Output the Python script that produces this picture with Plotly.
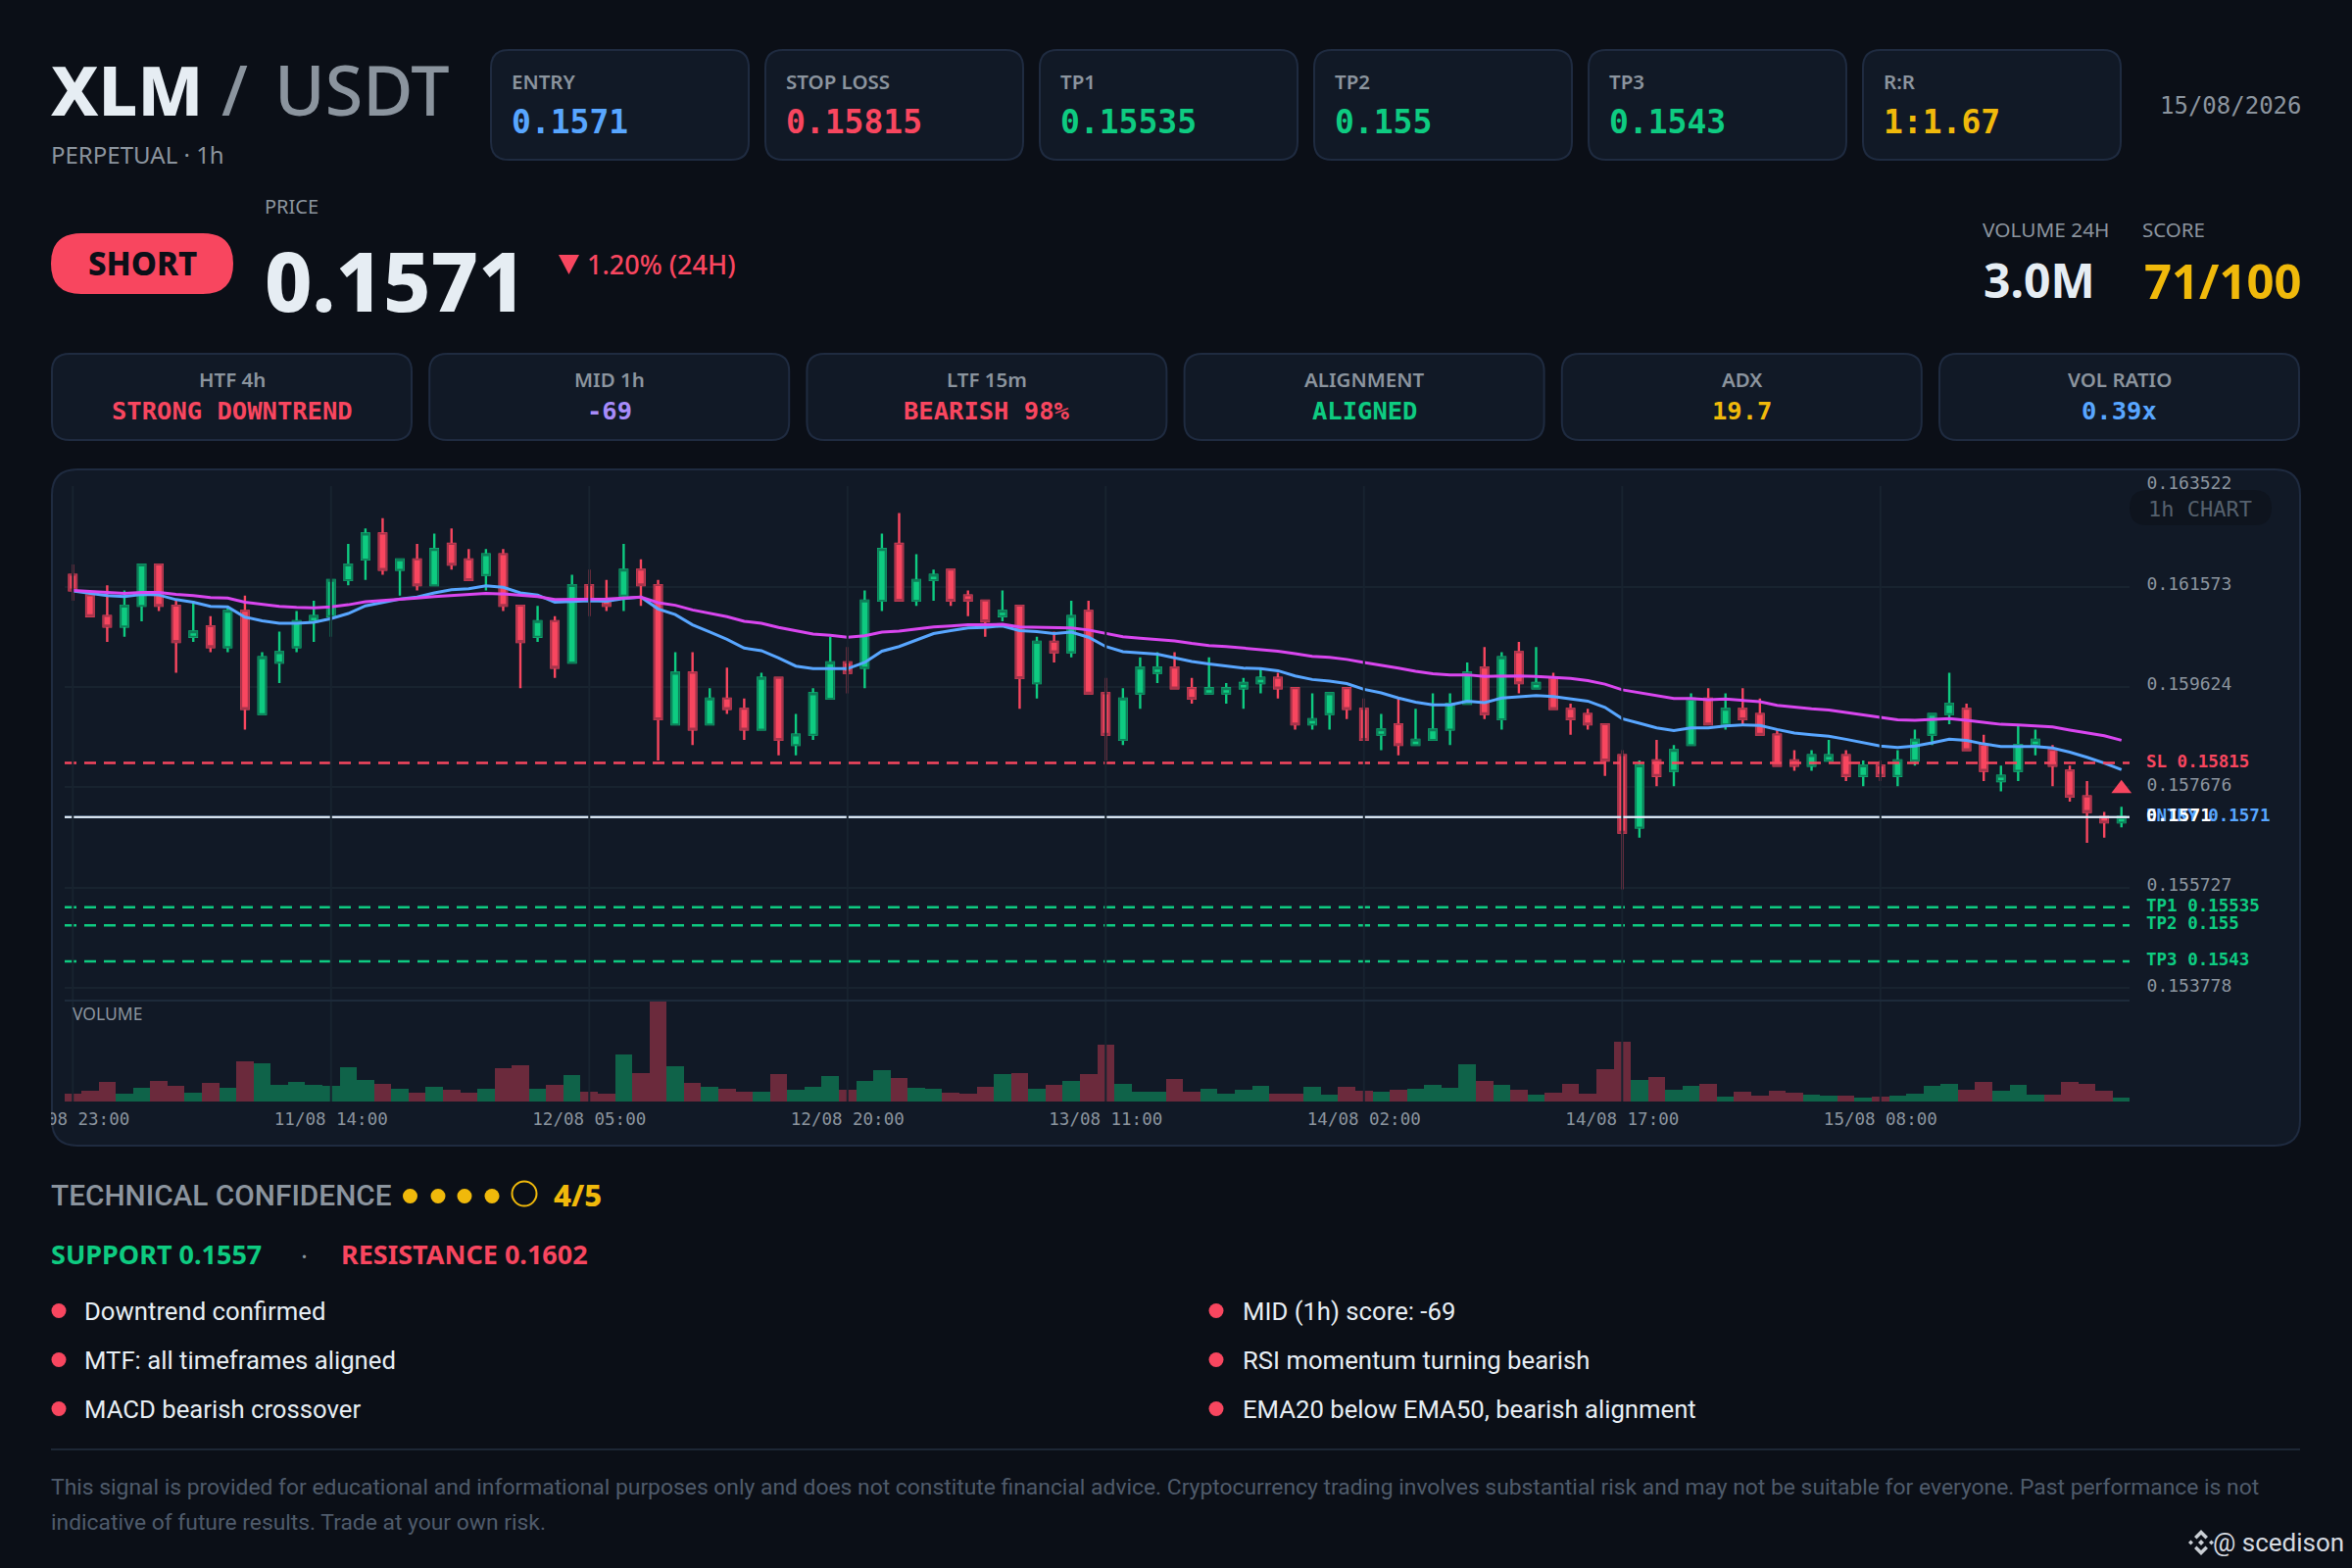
import pandas as pd
import plotly.graph_objects as go

W, H = 2400, 1600

# colours
BG = "#0b0f17"
CARD = "#111926"
BORDER = "#1f2b40"
TXT = "#e6edf3"
MUTED = "#8b949e"
RED = "#f8465f"
RED_DK = "#a6344b"
GREEN = "#0ecb81"
GREEN_DK = "#0e7d58"
BLUE = "#58a6ff"
YELLOW = "#f0b90b"
PURPLE = "#a78bfa"
MAGENTA = "#d946ef"
GRID = "#18232f"
SANS = "Noto Sans"
BODY = "Roboto"
MONO = "DejaVu Sans Mono"

# header cards
card_labels = ["ENTRY", "STOP LOSS", "TP1", "TP2", "TP3", "R:R"]
card_values = ["0.1571", "0.15815", "0.15535", "0.155", "0.1543", "1:1.67"]
card_colors = [BLUE, RED, GREEN, GREEN, GREEN, YELLOW]

# status row
stat_labels = ["HTF 4h", "MID 1h", "LTF 15m", "ALIGNMENT", "ADX", "VOL RATIO"]
stat_values = ["STRONG DOWNTREND", "-69", "BEARISH 98%", "ALIGNED", "19.7", "0.39x"]
stat_colors = [RED, PURPLE, RED, GREEN, YELLOW, BLUE]

# bullets
reasons_left = ["Downtrend confirmed", "MTF: all timeframes aligned", "MACD bearish crossover"]
reasons_right = ["MID (1h) score: -69", "RSI momentum turning bearish", "EMA20 below EMA50, bearish alignment"]

# candles, hourly from 10/08 23:00
opens = [0.1618, 0.1614, 0.1610, 0.1608, 0.1612, 0.1620, 0.1612, 0.1606, 0.1608, 0.1604,
         0.1611, 0.1591, 0.1601, 0.1604, 0.1609, 0.1610, 0.1617, 0.1621, 0.1626, 0.1619,
         0.1621, 0.1616, 0.1624, 0.1621, 0.1618, 0.1622, 0.1612, 0.1606, 0.1609, 0.1601,
         0.1616, 0.1613, 0.1614, 0.1619, 0.1616, 0.1589, 0.1599, 0.1589, 0.1594, 0.1592,
         0.1588, 0.1598, 0.1585, 0.1587, 0.1594, 0.1601, 0.1600, 0.1613, 0.1624, 0.1613,
         0.1617, 0.1619, 0.1614, 0.1613, 0.1610, 0.1612, 0.1597, 0.1605, 0.1603, 0.1611,
         0.1595, 0.1586, 0.1595, 0.1599, 0.1600, 0.1596, 0.1595, 0.1595, 0.1596, 0.1597,
         0.1598, 0.1596, 0.1589, 0.1591, 0.1596, 0.1592, 0.1587, 0.1589, 0.1585, 0.1586,
         0.1588, 0.1593, 0.1600, 0.1590, 0.1603, 0.1596, 0.1598, 0.1592, 0.1591, 0.1589,
         0.1583, 0.1569, 0.1582, 0.1580, 0.1585, 0.1594, 0.1589, 0.1592, 0.1591, 0.1587,
         0.1582, 0.1581, 0.1582, 0.1583, 0.1579, 0.1581, 0.1579, 0.1582, 0.1587, 0.1591,
         0.1592, 0.1585, 0.1578, 0.1580, 0.1585, 0.1584, 0.1580, 0.1575, 0.1571, 0.1570]
highs = [0.1620, 0.1615, 0.1616, 0.1615, 0.1620, 0.1620, 0.1613, 0.1613, 0.1610, 0.1612,
         0.1614, 0.1603, 0.1607, 0.1611, 0.1613, 0.1617, 0.1624, 0.1627, 0.1629, 0.1621,
         0.1624, 0.1626, 0.1627, 0.1623, 0.1623, 0.1623, 0.1612, 0.1612, 0.1610, 0.1618,
         0.1619, 0.1617, 0.1624, 0.1621, 0.1617, 0.1603, 0.1603, 0.1596, 0.1600, 0.1594,
         0.1599, 0.1598, 0.1591, 0.1596, 0.1606, 0.1604, 0.1615, 0.1626, 0.1630, 0.1622,
         0.1619, 0.1619, 0.1615, 0.1613, 0.1615, 0.1612, 0.1606, 0.1607, 0.1613, 0.1613,
         0.1598, 0.1596, 0.1602, 0.1603, 0.1603, 0.1598, 0.1602, 0.1597, 0.1598, 0.1600,
         0.1599, 0.1596, 0.1595, 0.1595, 0.1596, 0.1594, 0.1591, 0.1594, 0.1592, 0.1595,
         0.1595, 0.1601, 0.1604, 0.1603, 0.1605, 0.1604, 0.1599, 0.1593, 0.1592, 0.1589,
         0.1584, 0.1582, 0.1586, 0.1585, 0.1595, 0.1596, 0.1595, 0.1596, 0.1594, 0.1588,
         0.1584, 0.1584, 0.1586, 0.1584, 0.1582, 0.1582, 0.1584, 0.1588, 0.1591, 0.1599,
         0.1593, 0.1587, 0.1581, 0.1589, 0.1588, 0.1585, 0.1581, 0.1578, 0.1572, 0.1573]
lows = [0.1613, 0.1610, 0.1605, 0.1606, 0.1609, 0.1611, 0.1599, 0.1605, 0.1603, 0.1603,
        0.1588, 0.1591, 0.1597, 0.1603, 0.1605, 0.1606, 0.1616, 0.1617, 0.1618, 0.1614,
        0.1615, 0.1616, 0.1619, 0.1617, 0.1615, 0.1611, 0.1596, 0.1605, 0.1598, 0.1601,
        0.1610, 0.1611, 0.1611, 0.1612, 0.1582, 0.1589, 0.1585, 0.1589, 0.1591, 0.1586,
        0.1588, 0.1583, 0.1583, 0.1586, 0.1594, 0.1595, 0.1596, 0.1611, 0.1613, 0.1612,
        0.1613, 0.1612, 0.1610, 0.1606, 0.1609, 0.1592, 0.1594, 0.1601, 0.1602, 0.1595,
        0.1582, 0.1585, 0.1592, 0.1597, 0.1596, 0.1593, 0.1595, 0.1593, 0.1592, 0.1595,
        0.1594, 0.1588, 0.1588, 0.1588, 0.1590, 0.1586, 0.1584, 0.1583, 0.1585, 0.1586,
        0.1585, 0.1593, 0.1590, 0.1588, 0.1595, 0.1596, 0.1592, 0.1587, 0.1588, 0.1579,
        0.1557, 0.1567, 0.1577, 0.1577, 0.1585, 0.1589, 0.1588, 0.1589, 0.1587, 0.1581,
        0.1580, 0.1580, 0.1582, 0.1578, 0.1577, 0.1578, 0.1577, 0.1581, 0.1585, 0.1589,
        0.1584, 0.1578, 0.1576, 0.1578, 0.1583, 0.1577, 0.1574, 0.1566, 0.1567, 0.1569]
closes = [0.1615, 0.1610, 0.1608, 0.1612, 0.1620, 0.1612, 0.1605, 0.1607, 0.1604, 0.1611,
          0.1592, 0.1602, 0.1603, 0.1609, 0.1610, 0.1617, 0.1620, 0.1626, 0.1619, 0.1621,
          0.1616, 0.1623, 0.1620, 0.1617, 0.1622, 0.1612, 0.1605, 0.1609, 0.1600, 0.1616,
          0.1613, 0.1612, 0.1619, 0.1616, 0.1590, 0.1599, 0.1588, 0.1594, 0.1592, 0.1588,
          0.1598, 0.1586, 0.1587, 0.1595, 0.1601, 0.1599, 0.1613, 0.1623, 0.1613, 0.1617,
          0.1618, 0.1613, 0.1613, 0.1609, 0.1611, 0.1598, 0.1605, 0.1603, 0.1610, 0.1595,
          0.1587, 0.1594, 0.1600, 0.1600, 0.1596, 0.1594, 0.1596, 0.1596, 0.1597, 0.1598,
          0.1596, 0.1589, 0.1590, 0.1595, 0.1592, 0.1586, 0.1588, 0.1585, 0.1586, 0.1588,
          0.1593, 0.1599, 0.1591, 0.1602, 0.1597, 0.1597, 0.1592, 0.1590, 0.1589, 0.1582,
          0.1568, 0.1581, 0.1579, 0.1584, 0.1594, 0.1589, 0.1592, 0.1590, 0.1587, 0.1581,
          0.1581, 0.1583, 0.1583, 0.1579, 0.1581, 0.1579, 0.1582, 0.1586, 0.1591, 0.1593,
          0.1584, 0.1580, 0.1579, 0.1585, 0.1586, 0.1581, 0.1575, 0.1572, 0.1570, 0.1571]
ema20 = [0.16149, 0.16145, 0.16140, 0.16138, 0.16142, 0.16141, 0.16132, 0.16127, 0.16119, 0.16118,
         0.16098, 0.16091, 0.16086, 0.16086, 0.16088, 0.16095, 0.16105, 0.16120, 0.16126, 0.16133,
         0.16137, 0.16145, 0.16151, 0.16153, 0.16159, 0.16156, 0.16145, 0.16141, 0.16127, 0.16129,
         0.16130, 0.16129, 0.16134, 0.16137, 0.16114, 0.16103, 0.16083, 0.16069, 0.16055, 0.16038,
         0.16033, 0.16019, 0.16003, 0.15998, 0.15998, 0.15998, 0.16010, 0.16032, 0.16041, 0.16053,
         0.16066, 0.16072, 0.16077, 0.16078, 0.16081, 0.16072, 0.16070, 0.16066, 0.16069, 0.16059,
         0.16041, 0.16031, 0.16028, 0.16026, 0.16019, 0.16012, 0.16007, 0.16003, 0.15999, 0.15998,
         0.15994, 0.15984, 0.15977, 0.15974, 0.15969, 0.15958, 0.15951, 0.15941, 0.15933, 0.15928,
         0.15928, 0.15935, 0.15932, 0.15941, 0.15944, 0.15946, 0.15944, 0.15940, 0.15935, 0.15923,
         0.15901, 0.15892, 0.15883, 0.15878, 0.15883, 0.15883, 0.15887, 0.15889, 0.15888, 0.15880,
         0.15873, 0.15870, 0.15867, 0.15861, 0.15855, 0.15848, 0.15845, 0.15848, 0.15854, 0.15861,
         0.15859, 0.15852, 0.15847, 0.15847, 0.15847, 0.15844, 0.15836, 0.15826, 0.15815, 0.15802]
ema50 = [0.16150, 0.16148, 0.16145, 0.16144, 0.16146, 0.16146, 0.16142, 0.16140, 0.16136, 0.16135,
         0.16127, 0.16123, 0.16119, 0.16117, 0.16116, 0.16118, 0.16122, 0.16128, 0.16130, 0.16133,
         0.16135, 0.16138, 0.16140, 0.16141, 0.16144, 0.16143, 0.16140, 0.16138, 0.16132, 0.16132,
         0.16133, 0.16133, 0.16135, 0.16137, 0.16126, 0.16121, 0.16112, 0.16106, 0.16099, 0.16090,
         0.16086, 0.16078, 0.16071, 0.16065, 0.16063, 0.16059, 0.16062, 0.16069, 0.16071, 0.16075,
         0.16079, 0.16081, 0.16083, 0.16083, 0.16084, 0.16079, 0.16078, 0.16077, 0.16077, 0.16073,
         0.16066, 0.16060, 0.16057, 0.16055, 0.16052, 0.16047, 0.16043, 0.16041, 0.16038, 0.16036,
         0.16032, 0.16027, 0.16022, 0.16020, 0.16016, 0.16010, 0.16005, 0.15999, 0.15993, 0.15988,
         0.15986, 0.15986, 0.15983, 0.15984, 0.15984, 0.15983, 0.15981, 0.15979, 0.15975, 0.15968,
         0.15957, 0.15951, 0.15945, 0.15940, 0.15940, 0.15938, 0.15939, 0.15937, 0.15934, 0.15927,
         0.15923, 0.15920, 0.15918, 0.15913, 0.15909, 0.15904, 0.15899, 0.15898, 0.15900, 0.15901,
         0.15898, 0.15894, 0.15890, 0.15889, 0.15887, 0.15885, 0.15879, 0.15874, 0.15868, 0.15859]
# relative volume, the real unit is not on the chart
volumes = [8.0, 11.0, 20.0, 8.3, 14.3, 21.0, 16.3, 9.0, 18.7, 14.3,
           41.0, 39.0, 16.7, 19.7, 17.0, 15.7, 35.0, 22.0, 18.3, 13.0,
           9.0, 15.0, 12.3, 9.3, 13.0, 34.3, 36.7, 12.7, 17.3, 27.0,
           10.0, 8.0, 47.7, 29.3, 102.0, 35.7, 19.0, 15.0, 13.0, 10.0,
           9.7, 28.3, 11.7, 15.0, 25.7, 12.0, 20.7, 32.0, 24.0, 14.0,
           13.3, 9.3, 7.7, 15.0, 28.3, 28.7, 12.7, 16.7, 20.7, 28.0,
           58.0, 17.7, 10.0, 9.7, 23.3, 10.3, 13.0, 7.7, 12.3, 15.7,
           7.7, 8.3, 15.0, 7.0, 15.0, 10.7, 9.7, 12.3, 12.7, 16.7,
           14.0, 37.7, 21.3, 17.0, 12.3, 7.3, 8.7, 18.0, 7.7, 33.0,
           60.7, 22.0, 24.7, 11.7, 16.0, 18.0, 5.0, 9.7, 6.3, 11.0,
           8.7, 7.0, 6.0, 6.3, 4.0, 5.3, 6.0, 8.0, 16.0, 18.3,
           11.7, 20.3, 11.0, 16.7, 7.0, 7.0, 20.0, 18.0, 11.0, 4.0]

price_ticks = [0.163522, 0.161573, 0.159624, 0.157676, 0.155727, 0.153778]
time_labels = ["10/08 23:00", "11/08 14:00", "12/08 05:00", "12/08 20:00",
               "13/08 11:00", "14/08 02:00", "14/08 17:00", "15/08 08:00"]

entry = 0.1571
last_price = 0.1571
stop_loss = 0.15815
targets = [0.15535, 0.155, 0.1543]
target_names = ["TP1", "TP2", "TP3"]
signal_price = 0.15765

times = pd.date_range("2026-08-10 23:00", periods=len(closes), freq="h")
tick_times = list(times[::15])
body_top = [max(o, c) for o, c in zip(opens, closes)]
body_bot = [min(o, c) for o, c in zip(opens, closes)]
vol_colors = ["#0f6349" if c >= o else "#6b2a3c" for o, c in zip(opens, closes)]


def X(p):
    return p / W


def Y(p):
    return 1 - p / H


def round_rect(x0, y0, x1, y1, r):
    # plotly paths have no arcs, so the corners are quadratic
    return (f"M{X(x0 + r)},{Y(y0)} L{X(x1 - r)},{Y(y0)} Q{X(x1)},{Y(y0)} {X(x1)},{Y(y0 + r)} "
            f"L{X(x1)},{Y(y1 - r)} Q{X(x1)},{Y(y1)} {X(x1 - r)},{Y(y1)} "
            f"L{X(x0 + r)},{Y(y1)} Q{X(x0)},{Y(y1)} {X(x0)},{Y(y1 - r)} "
            f"L{X(x0)},{Y(y0 + r)} Q{X(x0)},{Y(y0)} {X(x0 + r)},{Y(y0)} Z")


def add_box(fig, x0, y0, x1, y1, r, fill, line=None, lw=2, layer="below"):
    fig.add_shape(type="path", path=round_rect(x0, y0, x1, y1, r), xref="paper", yref="paper",
                  fillcolor=fill, line=dict(color=line or fill, width=lw if line else 0), layer=layer)


def add_text(fig, x, y, txt, size, color, family=SANS, weight=400, anchor="left"):
    fig.add_annotation(x=X(x), y=Y(y), xref="paper", yref="paper", text=txt, showarrow=False,
                       xanchor=anchor, yanchor="middle", borderpad=0, borderwidth=0,
                       font=dict(family=family, size=size, color=color, weight=weight))


def add_level_label(fig, level, txt, size, color):
    fig.add_annotation(x=X(2190), xref="paper", y=level, yref="y", text=txt, showarrow=False,
                       xanchor="left", yanchor="middle", yshift=2, borderpad=0, borderwidth=0,
                       font=dict(family=MONO, size=size, color=color, weight=700))


def add_dot(fig, x, y, d, fill, line=None):
    fig.add_shape(type="circle", xref="paper", yref="paper", x0=X(x - d / 2), x1=X(x + d / 2),
                  y0=Y(y + d / 2), y1=Y(y - d / 2), fillcolor=fill,
                  line=dict(color=line or fill, width=2 if line else 0), layer="above")


def add_poly(fig, cx, cy, pts, color):
    d = " L".join(f"{X(cx + px)},{Y(cy + py)}" for px, py in pts)
    fig.add_shape(type="path", xref="paper", yref="paper", fillcolor=color, line=dict(width=0),
                  layer="above", path=f"M{d} Z")


fig = go.Figure()

# wicks + fill first, then the same bodies with the darker outline on top
fig.add_trace(go.Candlestick(x=times, open=opens, high=highs, low=lows, close=closes,
                             increasing=dict(line=dict(color=GREEN, width=2.4), fillcolor=GREEN),
                             decreasing=dict(line=dict(color=RED, width=2.4), fillcolor=RED),
                             xaxis="x", yaxis="y", hoverinfo="skip"))
fig.add_trace(go.Candlestick(x=times, open=opens, high=body_top, low=body_bot, close=closes,
                             increasing=dict(line=dict(color=GREEN_DK, width=1.8), fillcolor=GREEN),
                             decreasing=dict(line=dict(color=RED_DK, width=1.8), fillcolor=RED),
                             xaxis="x", yaxis="y", hoverinfo="skip"))
fig.add_trace(go.Scatter(x=times, y=ema20, mode="lines", line=dict(color=BLUE, width=3), xaxis="x", yaxis="y"))
fig.add_trace(go.Scatter(x=times, y=ema50, mode="lines", line=dict(color=MAGENTA, width=3), xaxis="x", yaxis="y"))
fig.add_trace(go.Scatter(x=[times[-1]], y=[signal_price], mode="markers", cliponaxis=False,
                         marker=dict(symbol="triangle-up", size=18, color=RED), xaxis="x", yaxis="y"))
fig.add_trace(go.Bar(x=times, y=volumes, marker=dict(color=vol_colors, line=dict(width=0)), xaxis="x", yaxis="y2"))

# ---- cards
add_box(fig, 53, 479, 2347, 1169, 26, CARD, BORDER)
for i in range(6):
    x0 = 501 + 280 * i
    add_box(fig, x0, 51, x0 + 263, 163, 18, CARD, BORDER)
    add_text(fig, x0 + 21, 83, card_labels[i], 20.5, MUTED, weight=600)
    add_text(fig, x0 + 21, 124, card_values[i], 33, card_colors[i], family=MONO, weight=700)
for i in range(6):
    x0 = 53 + 385.2 * i
    add_box(fig, x0, 361, x0 + 367, 449, 18, CARD, BORDER)
    add_text(fig, x0 + 183.5, 387, stat_labels[i], 20.5, MUTED, weight=600, anchor="center")
    add_text(fig, x0 + 183.5, 419, stat_values[i], 25.5, stat_colors[i], family=MONO, weight=700, anchor="center")

# ---- header
add_text(fig, 52, 91, "XLM", 70, TXT, weight=800)
add_text(fig, 226, 91, "/", 70, MUTED, weight=500)
add_text(fig, 280, 91, "USDT", 70, MUTED, weight=500)
add_text(fig, 52, 157, "PERPETUAL · 1h", 24, MUTED)
add_text(fig, 2349, 108, "15/08/2026", 24, MUTED, family=MONO, anchor="right")
add_text(fig, 270, 211, "PRICE", 20, MUTED)
add_box(fig, 52, 238, 238, 300, 31, RED, layer="below")
add_text(fig, 145, 269, "SHORT", 33, BG, weight=800, anchor="center")
add_text(fig, 270, 286, "0.1571", 84, TXT, weight=800)
fig.add_shape(type="path", xref="paper", yref="paper", fillcolor=RED, line=dict(width=0), layer="above",
              path=f"M{X(570)},{Y(260)} L{X(591)},{Y(260)} L{X(580.5)},{Y(280)} Z")
add_text(fig, 599, 270, "1.20% (24H)", 27, RED, weight=500)
add_text(fig, 2023, 234, "VOLUME 24H", 20.8, MUTED)
add_text(fig, 2024, 286, "3.0M", 48, TXT, weight=700)
add_text(fig, 2186, 234, "SCORE", 20.5, MUTED)
add_text(fig, 2348, 286, "71/100", 49, YELLOW, weight=700, anchor="right")

# ---- chart overlays
add_box(fig, 2173, 500, 2318, 536, 18, "rgba(13,17,23,0.55)", layer="above")
add_text(fig, 2245, 519, "1h CHART", 22, "#55606d", family=MONO, anchor="center")
add_text(fig, 74, 1034, "VOLUME", 17.5, MUTED)

# level lines, above the candles
for lvl in targets:
    fig.add_shape(type="line", xref="x domain", yref="y", x0=0, x1=1, y0=lvl, y1=lvl, layer="above",
                  line=dict(color=GREEN, width=2.4, dash="12px,8px"))
fig.add_shape(type="line", xref="x domain", yref="y", x0=0, x1=1, y0=stop_loss, y1=stop_loss, layer="above",
              line=dict(color=RED, width=2.4, dash="12px,8px"))
fig.add_shape(type="line", xref="x domain", yref="y", x0=0, x1=1, y0=entry, y1=entry, layer="above",
              line=dict(color=BLUE, width=2))
fig.add_shape(type="line", xref="x domain", yref="y", x0=0, x1=1, y0=last_price, y1=last_price, layer="above",
              line=dict(color="#eef2f6", width=2))

# vertical grid sits on top of the series in the reference
for t in tick_times:
    fig.add_shape(type="line", xref="x", yref="paper", x0=t, x1=t, y0=Y(1124), y1=Y(496), layer="above",
                  line=dict(color=GRID, width=2))
fig.add_shape(type="line", xref="paper", yref="paper", x0=X(66), x1=X(2173), y0=Y(1021), y1=Y(1021),
              layer="above", line=dict(color="#1d2a3a", width=2))

for lvl, name in zip(targets, target_names):
    add_level_label(fig, lvl, f"{name} {lvl}", 17.5, GREEN)
add_level_label(fig, stop_loss, f"SL {stop_loss}", 17.5, RED)
add_level_label(fig, entry, f"ENTRY {entry}", 17.5, BLUE)
add_level_label(fig, last_price, f"{last_price}", 18.4, "#ffffff")

# hide the part of the first time label that falls outside the card
fig.add_shape(type="rect", xref="paper", yref="paper", x0=0, x1=X(52), y0=Y(1160), y1=Y(1125), layer="above",
              fillcolor=BG, line=dict(width=0))

# ---- lower section
add_text(fig, 52, 1219, "TECHNICAL CONFIDENCE", 29.8, MUTED, family=BODY, weight=500)
for cx in [418.5, 447, 474, 502]:
    add_dot(fig, cx, 1220.5, 15, YELLOW)
add_dot(fig, 535, 1218, 25, "rgba(0,0,0,0)", YELLOW)
add_text(fig, 565, 1219, "4/5", 31, YELLOW, weight=800)
add_text(fig, 52, 1279, "SUPPORT 0.1557", 27, GREEN, weight=700)
add_text(fig, 307, 1281, "·", 26, MUTED)
add_text(fig, 348, 1279, "RESISTANCE 0.1602", 27, RED, weight=700)
for i in range(3):
    yy = 1337.5 + 50 * i
    add_dot(fig, 60, yy, 15, RED)
    add_text(fig, 86, yy, reasons_left[i], 25.7, TXT, family=BODY)
    add_dot(fig, 1241, yy, 15, RED)
    add_text(fig, 1268, yy, reasons_right[i], 25.7, TXT, family=BODY)
fig.add_shape(type="line", xref="paper", yref="paper", x0=X(52), x1=X(2347), y0=Y(1479), y1=Y(1479),
              line=dict(color="#1d2735", width=2))
add_text(fig, 52, 1517, "This signal is provided for educational and informational purposes only and does not "
         "constitute financial advice. Cryptocurrency trading involves substantial risk and may not be suitable "
         "for everyone. Past performance is not", 22.85, "#4f5b6b", family=BODY)
add_text(fig, 52, 1553, "indicative of future results. Trade at your own risk.", 22.85, "#4f5b6b", family=BODY)

# watermark logo: two chevrons, two side diamonds, one centre diamond
LOGO = "#c9ced4"
add_poly(fig, 2246, 1574, [(0, -13), (7, -6), (4.5, -3.5), (0, -8), (-4.5, -3.5), (-7, -6)], LOGO)
add_poly(fig, 2246, 1574, [(0, 13), (7, 6), (4.5, 3.5), (0, 8), (-4.5, 3.5), (-7, 6)], LOGO)
add_poly(fig, 2246, 1574, [(0, -3), (3, 0), (0, 3), (-3, 0)], LOGO)
add_poly(fig, 2246, 1574, [(-10.5, -2.5), (-8, 0), (-10.5, 2.5), (-13, 0)], LOGO)
add_poly(fig, 2246, 1574, [(10.5, -2.5), (13, 0), (10.5, 2.5), (8, 0)], LOGO)
add_text(fig, 2392, 1574, "@ scedison", 26, "#d5dae0", family=BODY, anchor="right")

half_bar = pd.Timedelta(hours=0.47)
fig.update_layout(
    width=W, height=H, margin=dict(l=0, r=0, t=0, b=0), autosize=False,
    paper_bgcolor=BG, plot_bgcolor="rgba(0,0,0,0)", showlegend=False,
    boxgap=0.4, bargap=0, hovermode=False,
    xaxis=dict(domain=[X(66), X(2173)], anchor="y2", automargin=False, range=[times[0] - half_bar, times[-1] + half_bar],
               rangeslider=dict(visible=False), showgrid=False, zeroline=False, showline=False,
               tickmode="array", tickvals=tick_times, ticktext=time_labels,
               ticks="outside", ticklen=2, tickcolor="rgba(0,0,0,0)",
               tickfont=dict(family=MONO, size=17.5, color=MUTED)),
    yaxis=dict(domain=[Y(1021), Y(496)], anchor="x", side="right", automargin=False, range=[0.15354, 0.163523],
               showgrid=True, gridcolor=GRID, gridwidth=2, zeroline=False, showline=False,
               tickmode="array", tickvals=price_ticks, ticktext=[f"{p:.6f}" for p in price_ticks],
               ticks="outside", ticklen=13, tickcolor="rgba(0,0,0,0)", ticklabelshift=-3,
               tickfont=dict(family=MONO, size=18, color=MUTED)),
    yaxis2=dict(domain=[Y(1124), Y(1021)], anchor="x", side="right", automargin=False, range=[0, 103],
                showgrid=False, zeroline=False, showline=False, showticklabels=False, ticks=""),
)

# the default page has an 8px body margin, the reference runs to the edge
fig.write_html("out.html", config={"displayModeBar": False},
               post_script="document.body.style.margin='0';document.body.style.background='#0b0f17';document.documentElement.style.overflow='hidden';")
